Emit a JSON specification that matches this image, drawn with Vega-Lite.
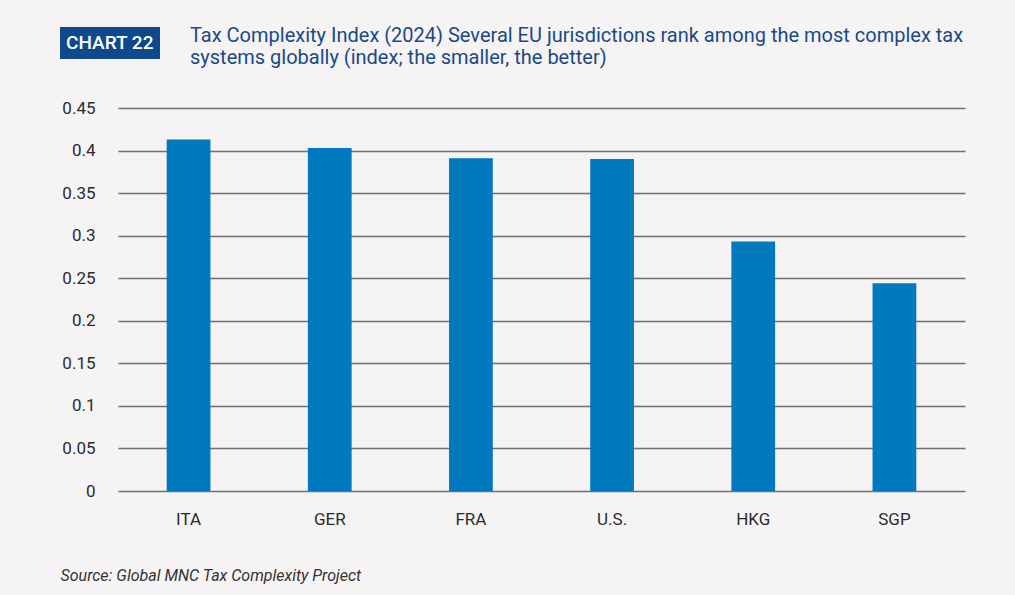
{
  "$schema": "https://vega.github.io/schema/vega-lite/v6.json",
  "width": 847,
  "height": 383,
  "autosize": {"type": "none"},
  "padding": {"left": 118, "top": 108, "right": 50, "bottom": 104},
  "background": "#f5f3f4",
  "title": {
    "text": ["Tax Complexity Index (2024) Several EU jurisdictions rank among the most complex tax", "systems globally (index; the smaller, the better)"],
    "anchor": "start",
    "frame": "group",
    "dx": 72,
    "dy": 71,
    "offset": 30,
    "font": "Roboto",
    "fontSize": 20,
    "fontWeight": "normal",
    "color": "#1a4a86",
    "lineHeight": 22
  },
  "data": {
    "values": [
      {"country": "ITA", "value": 0.413},
      {"country": "GER", "value": 0.403},
      {"country": "FRA", "value": 0.391},
      {"country": "U.S.", "value": 0.390},
      {"country": "HKG", "value": 0.293},
      {"country": "SGP", "value": 0.244}
    ]
  },
  "mark": {"type": "bar"},
  "encoding": {
    "x": {
      "field": "country",
      "type": "nominal",
      "sort": null,
      "scale": {"paddingInner": 0.69, "paddingOuter": 0.345},
      "axis": {
        "labelAngle": 0,
        "labelFontSize": 17,
        "labelColor": "#2b2b2b",
        "labelPadding": 20,
        "ticks": false,
        "domain": false,
        "grid": false,
        "title": "Source: Global MNC Tax Complexity Project",
        "titleFontStyle": "italic",
        "titleFontSize": 16,
        "titleFontWeight": "normal",
        "titleColor": "#333333",
        "titleAnchor": "start",
        "titleAlign": "left",
        "titleBaseline": "alphabetic",
        "titleX": -58,
        "titleY": 89
      }
    },
    "y": {
      "field": "value",
      "type": "quantitative",
      "scale": {"domain": [0, 0.45], "nice": false},
      "axis": {
        "values": [0, 0.05, 0.1, 0.15, 0.2, 0.25, 0.3, 0.35, 0.4, 0.45],
        "format": "~g",
        "labelFontSize": 17,
        "labelColor": "#2b2b2b",
        "labelPadding": 23,
        "ticks": false,
        "domain": false,
        "grid": true,
        "gridColor": "#707070",
        "gridWidth": 1.3,
        "title": null
      }
    },
    "color": {
      "datum": "CHART 22",
      "type": "nominal",
      "scale": {"range": ["#0079be"]},
      "legend": {
        "orient": "none",
        "legendX": -58,
        "legendY": -81,
        "title": null,
        "fillColor": "#0e4a8b",
        "padding": 6,
        "cornerRadius": 0,
        "symbolSize": 0,
        "symbolOpacity": 0,
        "symbolStrokeWidth": 0,
        "labelColor": "#ffffff",
        "labelFontSize": 19,
        "labelFontWeight": 500,
        "labelOffset": -19,
        "labelLimit": 0
      }
    }
  },
  "config": {
    "font": "Roboto",
    "view": {"stroke": null}
  }
}
